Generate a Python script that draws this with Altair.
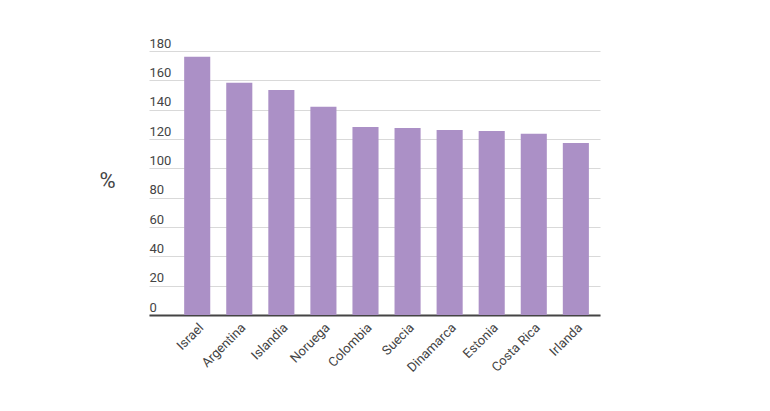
import altair as alt
import pandas as pd

countries = ["Israel", "Argentina", "Islandia", "Noruega", "Colombia",
             "Suecia", "Dinamarca", "Estonia", "Costa Rica", "Irlanda"]
values = [176, 158.4, 153.4, 142, 128.2, 127.5, 126.1, 125.4, 123.6, 117.2]
y_ticks = [0, 20, 40, 60, 80, 100, 120, 140, 160, 180]

df = pd.DataFrame({"pais": countries, "valor": values})

font = "Roboto"

chart = alt.Chart(df).mark_bar(color="#ab90c6").encode(
    x=alt.X("pais:N", sort=countries,
            scale=alt.Scale(paddingInner=0.38, paddingOuter=0.55, align=0.76),
            axis=alt.Axis(title=None, labelAngle=-45, labelFontSize=13,
                          labelColor="#444444", labelFont=font, ticks=False,
                          domain=True, domainColor="#444444", domainWidth=2,
                          labelPadding=6, grid=False,
                          labelOverlap=False)),
    y=alt.Y("valor:Q", scale=alt.Scale(domain=[0, 180], nice=False, zero=True),
            axis=alt.Axis(values=y_ticks, title="%", titleAngle=0,
                          titleFontSize=22, titleFont=font, titleFontWeight="normal",
                          titleColor="#444444", titleX=-42, titleY=129,
                          titleAlign="center", titleBaseline="middle",
                          labelAlign="left", labelBaseline="alphabetic",
                          labelPadding=0, labelOffset=-4, labelFontSize=13,
                          labelFont=font, labelColor="#444444",
                          labelOverlap=False, labelFlush=False,
                          ticks=False, tickSize=0, domain=False,
                          grid=True, gridColor="#d9d9d9", gridWidth=1)),
).properties(
    width=451, height=264,
    background="white",
    autosize=alt.AutoSizeParams(type="none"),
    padding={"left": 149, "top": 51, "right": 170, "bottom": 96},
).configure_view(stroke=None, strokeWidth=0)

chart.save("out.html", embed_options={"renderer": "svg", "actions": False})
